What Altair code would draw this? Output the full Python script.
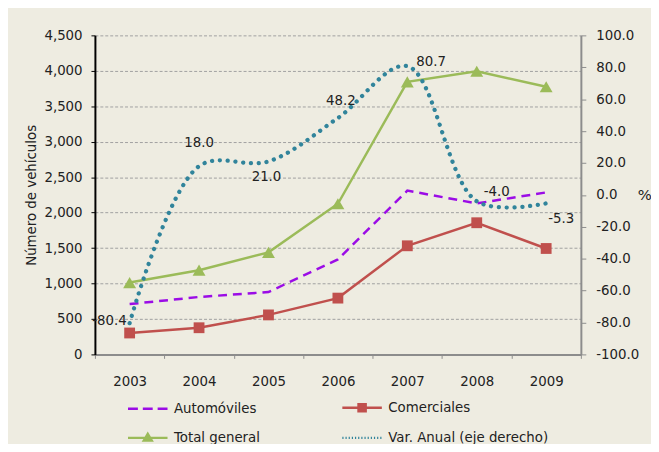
import altair as alt
import pandas as pd

# ---- data ----
years = ["2003", "2004", "2005", "2006", "2007", "2008", "2009"]
automoviles = [710, 810, 880, 1340, 2310, 2130, 2285]
comerciales = [302, 376, 557, 794, 1532, 1857, 1494]
total_general = [1013, 1188, 1439, 2125, 3844, 3994, 3775]
var_anual = [-80.4, 18.0, 21.0, 48.2, 80.7, -4.0, -5.3]

series_names = ["Automóviles", "Comerciales", "Total general", "Var. Anual (eje derecho)"]

# ---- styles ----
C_AUTO = "#9B0CE6"
C_COM = "#C0504D"
C_TOT = "#9BBB59"
C_VAR = "#31849B"
BG = "#EEECE1"
TXT = "#222222"
FONT = "DejaVu Sans"
FS = 13.5

rows = []
for name, vals in [("Automóviles", automoviles), ("Comerciales", comerciales), ("Total general", total_general)]:
    for y, v in zip(years, vals):
        rows.append({"year": y, "series": name, "value": v})
df_left = pd.DataFrame(rows)
df_var = pd.DataFrame({"year": years, "var": var_anual})
df_leg = pd.DataFrame({"series": series_names})

x_enc = alt.X(
    "year:N",
    title=None,
    sort=years,
    scale=alt.Scale(type="band", paddingInner=0, paddingOuter=0),
    axis=alt.Axis(
        tickBand="extent", grid=False, domainColor="#8C8C8C", domainWidth=2,
        tickColor="#8C8C8C", tickSize=4, tickWidth=1, labelPadding=16,
        labelColor=TXT, labelFontSize=FS, labelFont=FONT, labelAngle=0, zindex=0,
    ),
)

y_left = alt.Y(
    "value:Q",
    title="Número de vehículos",
    scale=alt.Scale(domain=[0, 4500], nice=False, zero=True),
    axis=alt.Axis(
        orient="left", values=list(range(0, 4501, 500)), format=",.0f",
        grid=True, gridColor="#A0A0A0", gridDash=[3, 2], gridWidth=1,
        domainColor="#000000", domainWidth=2, tickColor="#000000", tickSize=4,
        labelPadding=9, labelColor=TXT, labelFontSize=FS, labelFont=FONT,
        titleColor=TXT, titleFontSize=FS, titleFont=FONT, titleFontWeight="normal",
        titlePadding=6, zindex=0,
    ),
)

y_right = alt.Y(
    "var:Q",
    title="%",
    scale=alt.Scale(domain=[-100, 100], nice=False, zero=False),
    axis=alt.Axis(
        orient="right", values=list(range(-100, 101, 20)), format=".1f",
        grid=False, domainColor="#8C8C8C", domainWidth=2, tickColor="#8C8C8C",
        tickSize=5, labelPadding=10, labelColor=TXT, labelFontSize=FS, labelFont=FONT,
        titleColor=TXT, titleFontSize=15, titleFont=FONT, titleFontWeight="normal",
        titleAngle=0, titleAlign="left", titleBaseline="middle", titleX=57, titleY=161,
    ),
)

base_left = alt.Chart(df_left)

auto_line = base_left.transform_filter(alt.datum.series == "Automóviles").mark_line(
    color=C_AUTO, strokeWidth=2.5, strokeDash=[9, 6]
).encode(x=x_enc, y=y_left)

com_line = base_left.transform_filter(alt.datum.series == "Comerciales").mark_line(
    color=C_COM, strokeWidth=2.5
).encode(x=x_enc, y=y_left)
com_pts = base_left.transform_filter(alt.datum.series == "Comerciales").mark_point(
    shape="square", filled=True, color=C_COM, size=120, opacity=1
).encode(x=x_enc, y=y_left)

tot_line = base_left.transform_filter(alt.datum.series == "Total general").mark_line(
    color=C_TOT, strokeWidth=2.5
).encode(x=x_enc, y=y_left)
tot_pts = base_left.transform_filter(alt.datum.series == "Total general").mark_point(
    shape="triangle-up", filled=True, color=C_TOT, size=170, opacity=1
).encode(x=x_enc, y=y_left)

# legend built from an empty layer with custom symbol paths (column-major order)
leg_order = ["Automóviles", "Total general", "Comerciales", "Var. Anual (eje derecho)"]
leg_path_map = {
    "Automóviles": "M-1,0H-0.5M-0.25,0H0.25M0.5,0H1",
    "Comerciales": "M-1,0H1M-0.18,-0.18H0.18V0.18H-0.18Z",
    "Total general": "M-1,0H1M-0.2,0.14L0,-0.2L0.2,0.14Z",
    "Var. Anual (eje derecho)": "".join("M%.3f,0H%.3f" % (-1 + i * 0.16, -1 + i * 0.16 + 0.06) for i in range(13)),
}
leg_color_map = {"Automóviles": C_AUTO, "Comerciales": C_COM, "Total general": C_TOT, "Var. Anual (eje derecho)": C_VAR}
leg_paths = [leg_path_map[s] for s in leg_order]
leg_colors = [leg_color_map[s] for s in leg_order]
legend = alt.Legend(
    title=None, orient="none", legendX=32, legendY=355, columns=2,
    columnPadding=77, rowPadding=-2, padding=0, symbolSize=1600, symbolStrokeWidth=2.5,
    labelFontSize=FS, labelFont=FONT, labelColor=TXT, labelOffset=5, symbolOpacity=1,
    labelLimit=400,
)
leg_layer = alt.Chart(df_leg).transform_filter("false").mark_point(filled=True, opacity=1).encode(
    fill=alt.Fill("series:N", sort=leg_order, scale=alt.Scale(domain=leg_order, range=leg_colors), legend=legend),
    stroke=alt.Stroke("series:N", sort=leg_order, scale=alt.Scale(domain=leg_order, range=leg_colors), legend=legend),
    shape=alt.Shape("series:N", sort=leg_order, scale=alt.Scale(domain=leg_order, range=leg_paths), legend=legend),
)

left = alt.layer(auto_line, com_line, com_pts, tot_line, tot_pts, leg_layer)

base_var = alt.Chart(df_var)
var_line = base_var.mark_line(
    color=C_VAR, strokeWidth=4.3, strokeDash=[0.1, 7.8], strokeCap="round", interpolate="catmull-rom"
).encode(x=x_enc, y=y_right)

label_offsets = {
    "2003": ("right", -3, -2),
    "2004": ("center", 0, -23),
    "2005": ("center", -2, 16),
    "2006": ("center", 3, -17),
    "2007": ("left", 9, -4),
    "2008": ("left", 7, -9),
    "2009": ("left", 2, 16),
}
texts = []
for yr, (al, dx, dy) in label_offsets.items():
    texts.append(
        base_var.transform_filter(alt.datum.year == yr)
        .mark_text(align=al, baseline="middle", dx=dx, dy=dy, fontSize=FS, font=FONT, color=TXT)
        .encode(x=x_enc, y=y_right, text=alt.Text("var:Q", format=".1f"))
    )

right = alt.layer(var_line, *texts)

chart = (
    alt.layer(left, right)
    .resolve_scale(y="independent")
    .properties(
        width=492, height=323,
        autosize=alt.AutoSizeParams(type="none"),
        padding={"left": 88, "top": 25, "right": 71, "bottom": 88},
        background=BG,
    )
    .configure(locale={"number": {"decimal": ".", "thousands": ",", "grouping": [3],
                                  "currency": ["$", ""], "minus": "-"}})
    .configure_view(stroke=None, fill=BG)
)

chart.save("out.html", embed_options={"renderer": "svg", "actions": False})
